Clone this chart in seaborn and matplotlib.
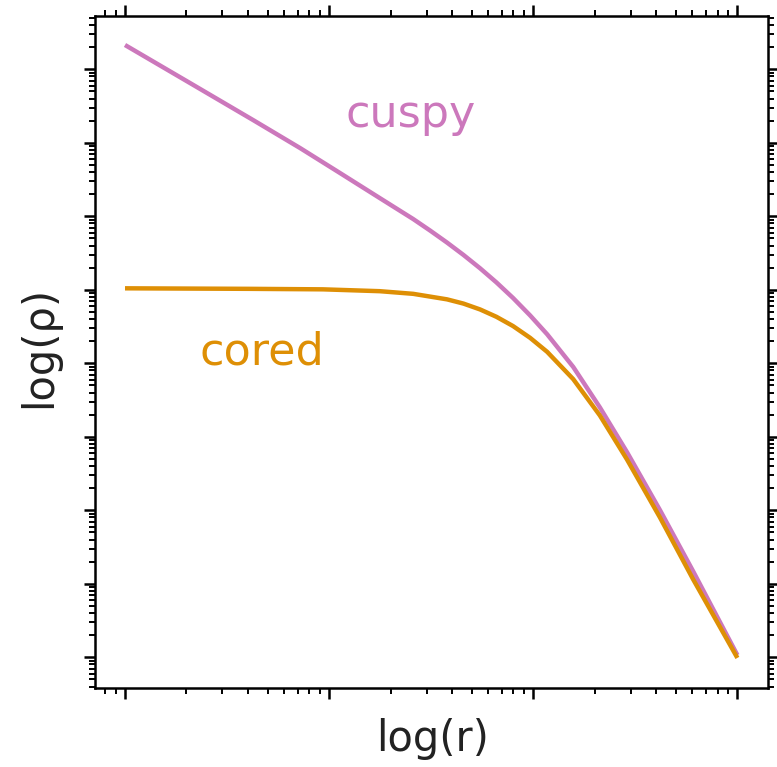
import numpy as np
import pandas as pd
import matplotlib
matplotlib.use("Agg")
import matplotlib.pyplot as plt
import seaborn as sns

# --- data (log-log axes) ---
cuspy_r = [1.0, 2.08, 4.24, 7.20, 11.3, 17.7, 25.8, 31.3, 37.8, 45.5, 54.9, 66.0, 79.6, 96.5,
           117, 157, 212, 288, 418, 607, 1000]
cuspy_rho = [2.14e8, 6.51e7, 2.04e7, 8.49e6, 3.88e6, 1.77e6, 9.18e5, 6.37e5, 4.39e5, 2.98e5,
             1.96e5, 1.26e5, 7.74e4, 4.48e4, 2.48e4, 8.91e3, 2.51e3, 617, 100, 14.8, 1.07]

cored_r = [1.0, 4.10, 9.33, 17.7, 25.8, 37.8, 45.5, 54.9, 66.0, 79.6, 96.5, 117, 157, 212,
           288, 418, 607, 1000]
cored_rho = [1.047e5, 1.03e5, 1.014e5, 9.57e4, 8.81e4, 7.41e4, 6.49e4, 5.40e4, 4.29e4, 3.21e4,
             2.22e4, 1.43e4, 6.08e3, 1.95e3, 490, 79.4, 11.5, 0.98]

labels = ["cuspy", "cored"]
colors = ["#cc78bc", "#de8f05"]

sns.set_style("ticks")
plt.rcParams["font.family"] = ["DejaVu Sans"]

fig = plt.figure(figsize=(7.77, 7.67), dpi=100)
ax = fig.add_axes([95 / 777, 1 - 688 / 767, (768 - 95) / 777, (688 - 16) / 767])

df_cuspy = pd.DataFrame({"r": cuspy_r, "rho": cuspy_rho})
df_cored = pd.DataFrame({"r": cored_r, "rho": cored_rho})
sns.lineplot(data=df_cuspy, x="r", y="rho", ax=ax, color=colors[0], linewidth=3.2, sort=False)
sns.lineplot(data=df_cored, x="r", y="rho", ax=ax, color=colors[1], linewidth=3.2, sort=False)
for ln in ax.get_lines():
    ln.set_linewidth(3.2)
    ln.set_solid_joinstyle("round")
    ln.set_solid_capstyle("butt")

ax.set_xscale("log")
ax.set_yscale("log")
ax.set_xlim(10 ** -0.147, 10 ** 3.150)
ax.set_ylim(10 ** -0.418, 10 ** 8.725)

for s in ax.spines.values():
    s.set_visible(True)
    s.set_linewidth(1.8)
    s.set_color("black")

ax.tick_params(which="both", direction="out", top=True, right=True,
               labelbottom=False, labelleft=False, color="black")
ax.tick_params(which="major", length=8, width=1.8)
ax.tick_params(which="minor", length=4.5, width=1.4)
ax.xaxis.set_major_locator(matplotlib.ticker.LogLocator(base=10, numticks=20))
ax.xaxis.set_minor_locator(matplotlib.ticker.LogLocator(base=10, subs=np.arange(2, 10), numticks=20))
ax.yaxis.set_major_locator(matplotlib.ticker.LogLocator(base=10, numticks=20))
ax.yaxis.set_minor_locator(matplotlib.ticker.LogLocator(base=10, subs=np.arange(2, 10), numticks=20))

ax.set_xlabel("log(r)", fontsize=30, color="#222222")
ax.set_ylabel("log(ρ)", fontsize=30, color="#222222")
ax.xaxis.set_label_coords(0.502, -0.045)
ax.yaxis.set_label_coords(-0.052, 0.507)

ax.text(0.4695, 0.835, labels[0], transform=ax.transAxes, ha="center", va="baseline",
        fontsize=32, color=colors[0])
ax.text(0.248, 0.4807, labels[1], transform=ax.transAxes, ha="center", va="baseline",
        fontsize=32, color=colors[1])

fig.savefig("out.png", dpi=100)
